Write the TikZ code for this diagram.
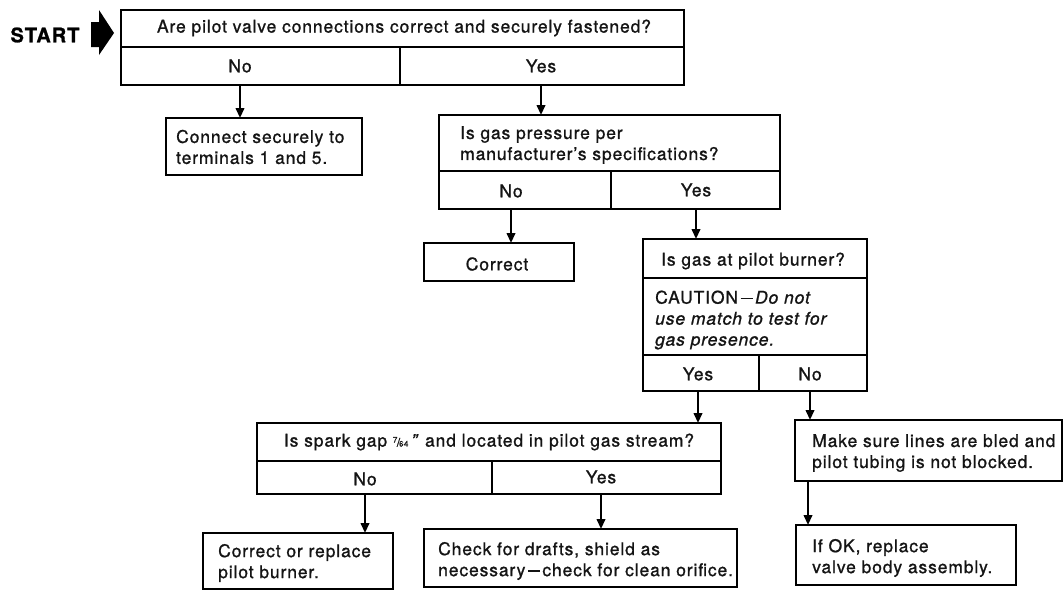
\documentclass[tikz,border=0pt]{standalone}
\usepackage{fontspec}
\setmainfont[LetterSpace=5,FakeBold=1]{TeX Gyre Heros}
\usetikzlibrary{arrows.meta,fit}

% a spaced dash between words
\newcommand{\wdash}{\kern2.5pt\rule[4.6pt]{12pt}{1.3pt}\kern2.5pt}

\tikzset{
  cell/.style={draw=black, line width=2.7pt, inner sep=0pt, outer sep=0pt},
  txt/.style={inner sep=0pt, text=black!92, font=\fontsize{17.5}{21}\selectfont},
  para/.style={txt, align=left, anchor=west},
  arr/.style={line width=2.2pt, -{Triangle[length=10pt,width=8.5pt]}},
}

\begin{document}
\begin{tikzpicture}[x=1pt, y=-1pt]
  \fill[white] (0,0) rectangle (1064,592);
  \useasboundingbox (0,0) rectangle (1064,592);

  % start marker
  \node[inner sep=0pt, font=\bfseries\fontsize{20}{20}\selectfont] (start) at (45,35) {START};
  \fill[black] (91,22) -- (99,22) -- (99,10) -- (114,33) -- (99,55) -- (99,47) -- (91,47) -- cycle;

  % question 1: pilot valve connections
  \node[cell, fit={(121,10) (684,47)}] (q1) {};
  \node[cell, fit={(121,47) (400,85)}] (q1no) {};
  \node[cell, fit={(400,47) (684,85)}] (q1yes) {};
  \node[txt] (q1t) at (404,28) {Are pilot valve connections correct and securely fastened?};
  \node[txt] (q1n) at (240,66) {No};
  \node[txt] (q1y) at (541,66) {Yes};

  \node[cell, fit={(166,118) (362,175)}] (conn) {};
  \node[para] (connt) at (176,147) {Connect securely to\\terminals 1 and 5.};

  % question 2: gas pressure
  \node[cell, fit={(439,115) (780,171)}] (q2) {};
  \node[cell, fit={(439,171) (611,209)}] (q2no) {};
  \node[cell, fit={(611,171) (780,209)}] (q2yes) {};
  \node[para] (q2t) at (460,145) {Is gas pressure per\\manufacturer's specifications?};
  \node[txt] (q2n) at (511,191) {No};
  \node[txt] (q2y) at (696,190) {Yes};

  \node[cell, fit={(424,243) (574,281)}] (corr) {};
  \node[txt] (corrt) at (497,264) {Correct};

  % question 3: gas at pilot burner
  \node[cell, fit={(643,239) (867,278)}] (q3) {};
  \node[cell, fit={(643,278) (867,355)}] (q3c) {};
  \node[cell, fit={(643,355) (759,391)}] (q3yes) {};
  \node[cell, fit={(759,355) (867,391)}] (q3no) {};
  \node[txt] (q3t) at (753,261) {Is gas at pilot burner?};
  \node[para] (q3ct) at (655,320) {CAUTION\wdash\textit{Do not}\\\textit{use match to test for}\\\textit{gas presence.}};
  \node[txt] (q3y) at (698,374) {Yes};
  \node[txt] (q3n) at (810,374) {No};

  % question 4: spark gap
  \node[cell, fit={(257,423) (721,461)}] (q4) {};
  \node[cell, fit={(257,461) (492,494)}] (q4no) {};
  \node[cell, fit={(492,461) (721,494)}] (q4yes) {};
  \node[txt] (q4t) at (489,442) {Is spark gap \raisebox{4pt}{\fontsize{8}{8}\selectfont 7}\kern-0.5pt{\fontsize{12}{12}\selectfont/}\kern-1pt{\fontsize{8}{8}\selectfont 64}\,\textit{''} and located in pilot gas stream?};
  \node[txt] (q4n) at (365,479) {No};
  \node[txt] (q4y) at (601,477) {Yes};

  \node[cell, fit={(203,533) (393,589)}] (crp) {};
  \node[para] (crpt) at (218,563) {Correct or replace\\pilot burner.};

  \node[cell, fit={(424,529) (737,587)}] (chk) {};
  \node[para] (chkt) at (438,561) {Check for drafts, shield as\\necessary\wdash check for clean orifice.};

  \node[cell, fit={(795,420) (1062,481)}] (mks) {};
  \node[para] (mkst) at (812,453) {Make sure lines are bled and\\pilot tubing is not blocked.};

  \node[cell, fit={(796,525) (1016,585)}] (iok) {};
  \node[para] (iokt) at (812,558) {If OK, replace\\valve body assembly.};

  % connectors
  \draw[arr] (q1n |- q1no.south) -- (q1n |- conn.north);
  \draw[arr] (q1y |- q1yes.south) -- (q1y |- q2.north);
  \draw[arr] (q2n |- q2no.south) -- (q2n |- corr.north);
  \draw[arr] (q2y |- q2yes.south) -- (q2y |- q3.north);
  \draw[arr] (q3y |- q3yes.south) -- (q3y |- q4.north);
  \draw[arr] (q3n |- q3no.south) -- (q3n |- mks.north);
  \draw[arr] (q4n |- q4no.south) -- (q4n |- crp.north);
  \draw[arr] (q4y |- q4yes.south) -- (q4y |- chk.north);
  \draw[arr] ([xshift=-4pt]mkst.west |- mks.south) -- ([xshift=-4pt]mkst.west |- iok.north);
\end{tikzpicture}
\end{document}
